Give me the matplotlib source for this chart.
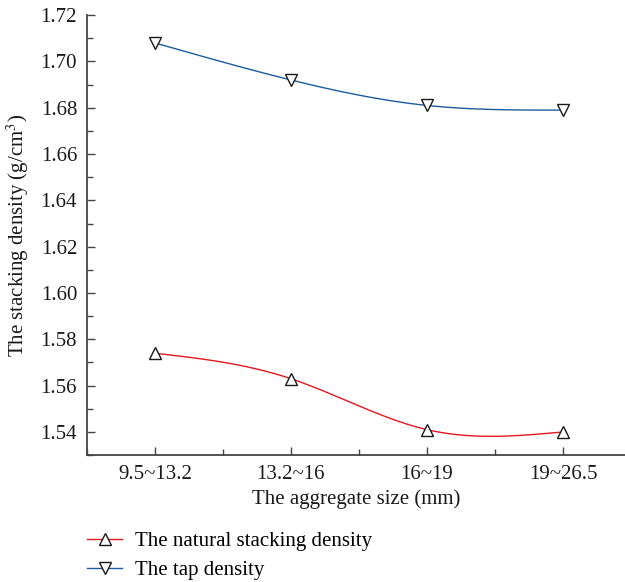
import numpy as np
import matplotlib
matplotlib.use("Agg")
import matplotlib.pyplot as plt
from matplotlib.ticker import MultipleLocator, AutoMinorLocator

plt.rcParams['font.family'] = ['Liberation Serif', 'DejaVu Serif']
plt.rcParams['mathtext.fontset'] = 'stix'

sizes = ["9.5~13.2", "13.2~16", "16~19", "19~26.5"]
natural_density = [1.574, 1.563, 1.541, 1.540]
tap_density = [1.708, 1.692, 1.681, 1.679]


def natural_spline(x, y, n=200):
    """Natural cubic spline through (x, y), evaluated on a dense grid."""
    x = np.asarray(x, float)
    y = np.asarray(y, float)
    k = len(x)
    h = np.diff(x)
    A = np.zeros((k, k))
    b = np.zeros(k)
    A[0, 0] = A[-1, -1] = 1.0
    for i in range(1, k - 1):
        A[i, i - 1] = h[i - 1]
        A[i, i] = 2 * (h[i - 1] + h[i])
        A[i, i + 1] = h[i]
        b[i] = 3 * ((y[i + 1] - y[i]) / h[i] - (y[i] - y[i - 1]) / h[i - 1])
    c = np.linalg.solve(A, b)
    xs = np.linspace(x[0], x[-1], n)
    ys = np.empty_like(xs)
    for j, xv in enumerate(xs):
        i = min(np.searchsorted(x, xv, side='right') - 1, k - 2)
        dx = xv - x[i]
        bi = (y[i + 1] - y[i]) / h[i] - h[i] * (2 * c[i] + c[i + 1]) / 3
        di = (c[i + 1] - c[i]) / (3 * h[i])
        ys[j] = y[i] + bi * dx + c[i] * dx ** 2 + di * dx ** 3
    return xs, ys


fig = plt.figure(figsize=(6.25, 5.82), dpi=100)
ax = fig.add_axes([0.139, 0.218, 0.861, 0.756])

pos = np.arange(len(sizes))
red = '#e3171f'
blue = '#1d5c9c'
fs = 15

for vals, color, marker, label in [
    (natural_density, red, '^', 'The natural stacking density'),
    (tap_density, blue, 'v', 'The tap density'),
]:
    xs, ys = natural_spline(pos, vals)
    ax.plot(xs, ys, color=color, lw=1.0, zorder=2)
    ax.plot(pos, vals, linestyle='none', marker=marker, markersize=9,
            markerfacecolor='white', markeredgecolor='#1a1a1a',
            markeredgewidth=1.0, zorder=3)
    ax.plot([], [], color=color, lw=1.0, marker=marker, markersize=9,
            markerfacecolor='white', markeredgecolor='#1a1a1a',
            markeredgewidth=1.0, label=label)

ax.set_xlim(-0.5, 3.456)
ax.set_ylim(1.53, 1.72)
ax.set_xticks(pos)
ax.set_xticklabels(sizes)
ax.xaxis.set_minor_locator(MultipleLocator(0.5))
ax.yaxis.set_major_locator(MultipleLocator(0.02))
ax.yaxis.set_minor_locator(AutoMinorLocator(2))
ax.yaxis.set_major_formatter(matplotlib.ticker.FormatStrFormatter('%.2f'))

for s in ('top', 'right'):
    ax.spines[s].set_visible(False)
for s in ('left', 'bottom'):
    ax.spines[s].set_color('#444444')
    ax.spines[s].set_linewidth(1.3)

ax.tick_params(which='both', direction='in', color='#444444', width=1.0,
               labelsize=fs, labelcolor='#1a1a1a')
ax.tick_params(which='major', length=6, pad=7)
ax.tick_params(which='minor', length=4)

ax.set_xlabel('The aggregate size (mm)', fontsize=fs, color='#1a1a1a', labelpad=4)
ax.set_ylabel('The stacking density (g/cm$^3$)', fontsize=fs, color='#1a1a1a', labelpad=7)

fig.legend(loc='upper left', bbox_to_anchor=(0.139, 0.087), frameon=False,
           fontsize=fs, handlelength=1.7, handletextpad=0.6, labelspacing=0.45,
           borderaxespad=0, borderpad=0)

fig.savefig('out.png', dpi=100)
